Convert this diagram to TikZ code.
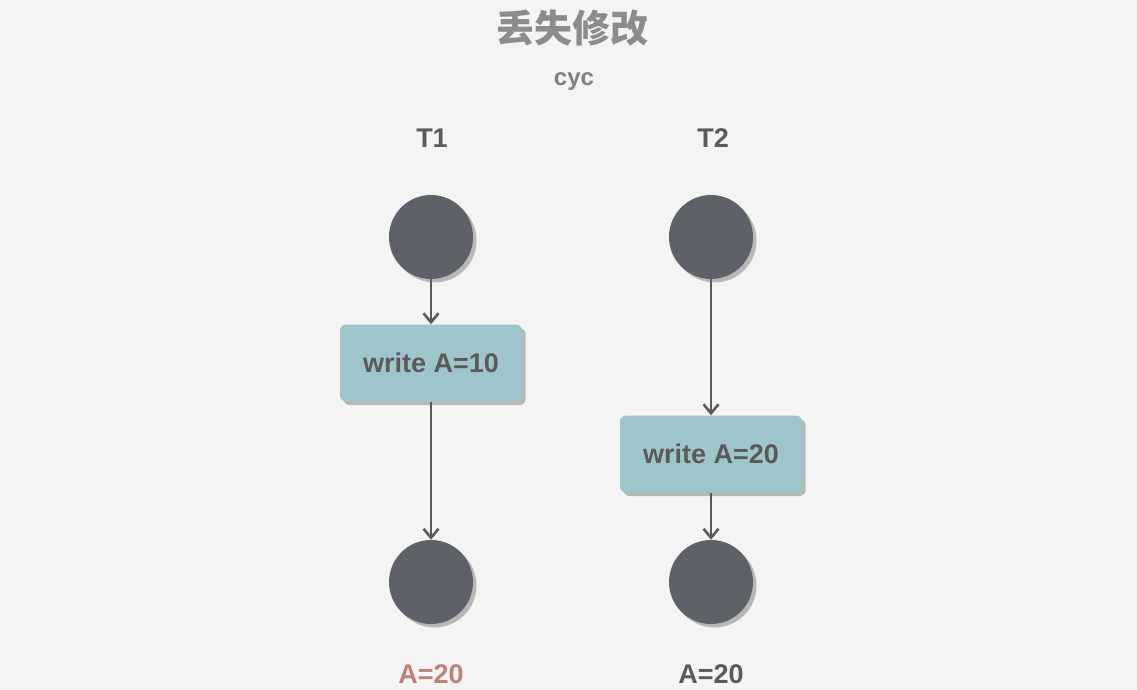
\documentclass[tikz,border=0pt]{standalone}
\usepackage{fontspec}
\setmainfont{Liberation Sans}
\newfontfamily\cjk{Noto Sans CJK SC}
\usetikzlibrary{positioning,arrows.meta,shadows}
\definecolor{bgc}{HTML}{F4F4F4}
\definecolor{dotc}{HTML}{5F6168}
\definecolor{boxc}{HTML}{9EC5CC}
\definecolor{txtc}{HTML}{5A5A5A}
\definecolor{redc}{HTML}{C0807A}
\begin{document}
\begin{tikzpicture}[x=1pt,y=-1pt]
	\tikzstyle{state} = [circle,fill=dotc,minimum size=84pt,inner sep=0pt,drop shadow={shadow xshift=3.5pt,shadow yshift=-3.5pt,fill=black!28,opacity=1}]
	\tikzstyle{op} = [rounded corners=6pt,fill=boxc,minimum width=182pt,minimum height=77pt,text=txtc,font=\bfseries\fontsize{27}{32}\selectfont,drop shadow={shadow xshift=3.5pt,shadow yshift=-3.5pt,fill=black!28,opacity=1}]
	\tikzstyle{lbl} = [text=txtc,font=\bfseries\fontsize{27}{32}\selectfont]
	\tikzstyle{flow} = [-{Straight Barb[length=9pt,width=15pt,line width=2.6pt]},line width=2.8pt,draw=txtc]
	
		\fill[bgc] (0,0) rectangle (1137,690);
		\useasboundingbox (0,0) rectangle (1137,690);
		
		\node[text=gray!90,font=\cjk\bfseries\fontsize{38}{42}\selectfont] (title) at (572,28){丢失修改};
		\node[text=gray,font=\bfseries\fontsize{24}{28}\selectfont] (sub) at (574,82){cyc};
		
		\node[lbl] (t1) at (432,138){T1};
		\node[lbl] (t2) at (713,138){T2};
		
		\node[state] (s1) at (431,237){};
		\node[op] (w1) at (431,363){write A=10};
		\node[state] (e1) at (431,582){};
		\node[lbl,text=redc] (r1) at (431,674){A=20};
		
		\node[state] (s2) at (711,237){};
		\node[op] (w2) at (711,454){write A=20};
		\node[state] (e2) at (711,582){};
		\node[lbl] (r2) at (711,674){A=20};
		
		\draw[flow] (s1.south) -- (w1.north);
		\draw[flow] (w1.south) -- (e1.north);
		\draw[flow] (s2.south) -- (w2.north);
		\draw[flow] (w2.south) -- (e2.north);
\end{tikzpicture}
\end{document}
